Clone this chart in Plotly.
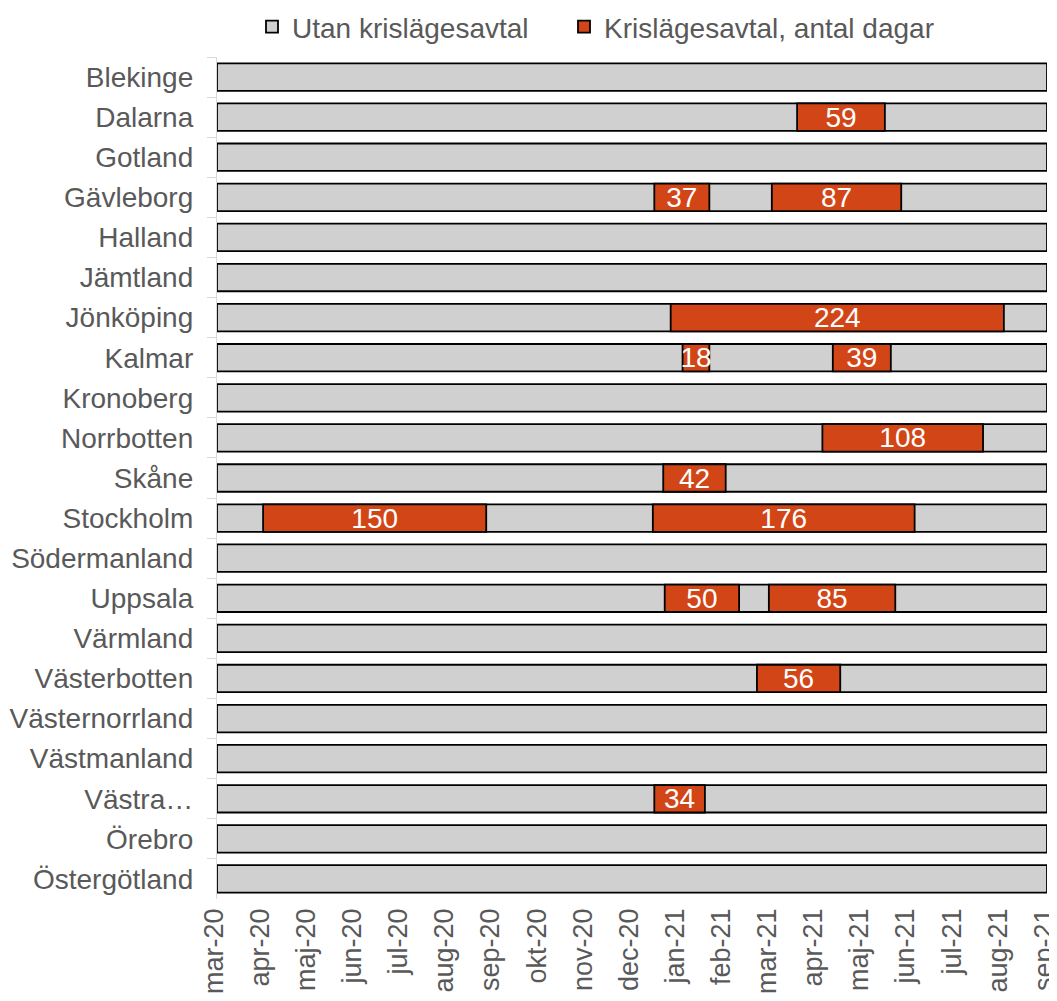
import plotly.graph_objects as go
import pandas as pd

# ---------------- data ----------------
regions = ["Blekinge", "Dalarna", "Gotland", "Gävleborg", "Halland", "Jämtland",
           "Jönköping", "Kalmar", "Kronoberg", "Norrbotten", "Skåne", "Stockholm",
           "Södermanland", "Uppsala", "Värmland", "Västerbotten", "Västernorrland",
           "Västmanland", "Västra…", "Örebro", "Östergötland"]

period_start = "2020-03-01"
period_end = "2021-09-10"

crisis_region = ["Dalarna", "Gävleborg", "Gävleborg", "Jönköping", "Kalmar", "Kalmar",
                 "Norrbotten", "Skåne", "Stockholm", "Stockholm", "Uppsala", "Uppsala",
                 "Västerbotten", "Västra…"]
crisis_start = ["2021-03-26", "2020-12-20", "2021-03-09", "2020-12-31", "2021-01-08",
                "2021-04-19", "2021-04-12", "2020-12-26", "2020-04-01", "2020-12-19",
                "2020-12-27", "2021-03-07", "2021-02-27", "2020-12-20"]
crisis_days = [59, 37, 87, 224, 18, 39, 108, 42, 150, 176, 50, 85, 56, 34]

tick_dates = ["2020-03-01", "2020-04-01", "2020-05-02", "2020-06-02", "2020-07-03",
              "2020-08-03", "2020-09-03", "2020-10-04", "2020-11-04", "2020-12-05",
              "2021-01-05", "2021-02-05", "2021-03-08", "2021-04-08", "2021-05-09",
              "2021-06-09", "2021-07-10", "2021-08-10", "2021-09-10"]
tick_labels = ["mar-20", "apr-20", "maj-20", "jun-20", "jul-20", "aug-20", "sep-20",
               "okt-20", "nov-20", "dec-20", "jan-21", "feb-21", "mar-21", "apr-21",
               "maj-21", "jun-21", "jul-21", "aug-21", "sep-21"]

# ---------------- styles ----------------
FONT = "Liberation Sans, Arial, sans-serif"
TXT = "#595959"
GRAY = "#D0D0D0"
RED = "#D24516"
DAY_MS = 86400000
FS = 28

# the page body adds an 8 px margin, so the figure is 8 px smaller
W, H = 1049, 993

total_ms = (pd.Timestamp(period_end) - pd.Timestamp(period_start)).total_seconds() * 1000

fig = go.Figure()
fig.add_trace(go.Bar(
    y=regions,
    x=[total_ms] * len(regions),
    base=[period_start] * len(regions),
    orientation="h",
    name="Utan krislägesavtal",
    legendwidth=267,
    marker=dict(color=GRAY, line=dict(color="black", width=1.8)),
    hoverinfo="skip",
))
fig.add_trace(go.Bar(
    y=crisis_region,
    x=[d * DAY_MS for d in crisis_days],
    base=crisis_start,
    orientation="h",
    name="Krislägesavtal, antal dagar",
    legendwidth=370,
    text=[str(d) for d in crisis_days],
    textposition="inside",
    insidetextanchor="middle",
    textangle=0,
    constraintext="none",
    textfont=dict(color="white", size=FS, family=FONT),
    marker=dict(color=RED, line=dict(color="black", width=1.8)),
    hoverinfo="skip",
))

fig.update_layout(
    width=W, height=H,
    margin=dict(l=209, r=10, t=49, b=102, autoexpand=False),
    paper_bgcolor="white", plot_bgcolor="white",
    barmode="overlay",
    bargap=0.315,
    font=dict(family=FONT, size=FS, color=TXT),
    showlegend=True,
    legend=dict(
        orientation="h",
        xref="container", yref="container",
        x=244 / W, xanchor="left",
        y=1 - 19 / H, yanchor="middle",
        font=dict(size=FS, color=TXT, family=FONT),
        itemwidth=30,
        bgcolor="rgba(0,0,0,0)",
        traceorder="normal",
    ),
    xaxis=dict(
        type="date",
        range=[period_start, period_end],
        tickmode="array",
        tickvals=tick_dates,
        ticktext=tick_labels,
        tickangle=-90,
        showgrid=False,
        zeroline=False,
        showline=False,
        ticks="",
        automargin=False,
        ticklabeloverflow="allow",
        ticklabelstandoff=3,
        ticklabelshift=-3,
        tickfont=dict(size=27, color=TXT, family=FONT),
    ),
    yaxis=dict(
        type="category",
        categoryorder="array",
        categoryarray=regions,
        autorange="reversed",
        showgrid=False,
        zeroline=False,
        showline=True,
        linecolor="#D9D9D9",
        linewidth=1.3,
        ticks="outside",
        tickson="boundaries",
        ticklen=9,
        tickwidth=1.3,
        tickcolor="#D9D9D9",
        automargin=False,
        ticklabelstandoff=17,
        tickfont=dict(size=FS, color=TXT, family=FONT),
    ),
)

fig.write_html("out.html")
